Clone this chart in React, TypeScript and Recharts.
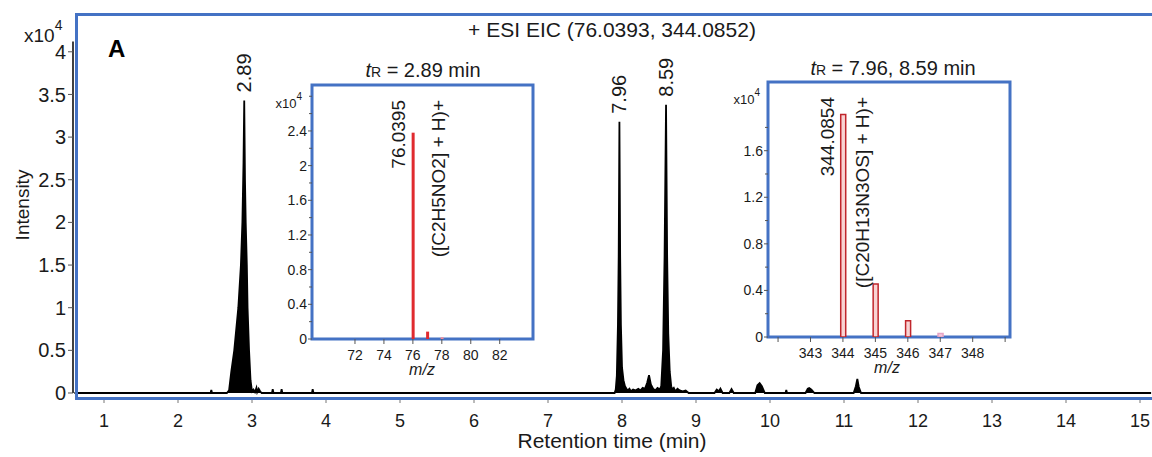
import React from 'react';
import {
  ComposedChart,
  Area,
  XAxis,
  YAxis,
  ReferenceLine,
  ReferenceDot,
  ReferenceArea,
  BarChart,
  Bar,
  Cell,
} from 'recharts';

const FONT = '"Liberation Sans", Arial, Helvetica, sans-serif';
const BLUE = '#4472C4';
const INK = '#1a1a1a';

// ---- EIC chromatogram: retention time (min) and intensity (counts) ----
const eicTime = [
  0.6, 2.4, 2.44, 2.45, 2.46, 2.66, 2.69, 2.72, 2.76, 2.815, 2.85, 2.87, 2.885, 2.895, 2.905,
  2.915, 2.93, 2.94, 2.96, 2.98, 3.0, 3.02, 3.04, 3.06, 3.07, 3.09, 3.11, 3.13, 3.27, 3.28,
  3.29, 3.39, 3.4, 3.41, 3.81, 3.82, 3.83, 7.9, 7.915, 7.93, 7.945, 7.955, 7.965, 7.975,
  7.985, 8.0, 8.02, 8.04, 8.06, 8.08, 8.1, 8.12, 8.15, 8.18, 8.22, 8.25, 8.28, 8.31, 8.34,
  8.365, 8.39, 8.42, 8.45, 8.48, 8.51, 8.53, 8.555, 8.575, 8.595, 8.61, 8.625, 8.645, 8.665,
  8.68, 8.7, 8.72, 8.75, 8.78, 8.82, 8.86, 8.9, 9.25, 9.28, 9.31, 9.33, 9.36, 9.45, 9.48,
  9.51, 9.8, 9.83, 9.86, 9.89, 9.93, 10.21, 10.22, 10.23, 10.48, 10.51, 10.53, 10.56, 10.6,
  11.13, 11.16, 11.18, 11.2, 11.23, 15.15,
];
const eicIntensity = [
  0, 0, 0, 350, 0, 0, 300, 2500, 5000, 10000, 15000, 20000, 27000, 34300, 25000,
  20000, 15000, 10000, 5000, 1500, 200, 400, 100, 600, 100, 500, 200, 0, 0, 450,
  0, 0, 450, 0, 0, 450, 0, 0, 400, 2000, 8000, 16000, 31800, 16000,
  8000, 3000, 1500, 800, 500, 300, 500, 200, 400, 300, 500, 300, 600, 500, 1200,
  2100, 1000, 500, 300, 600, 400, 800, 5000, 16000, 33800, 16000, 7000, 2500, 800,
  400, 600, 200, 500, 300, 200, 300, 0, 0, 400, 200, 500, 0, 0, 450,
  0, 0, 900, 1150, 800, 0, 0, 350, 0, 0, 500, 580, 400, 0,
  0, 800, 1650, 700, 0, 0,
];
const eicData = eicTime.map((t, i) => ({ t, v: eicIntensity[i] }));

const peakTimes = [2.895, 7.965, 8.595];
const peakLabels = ['2.89', '7.96', '8.59'];
const peakApex = [34300, 31800, 33800];

const mainXTicks = [1, 2, 3, 4, 5, 6, 7, 8, 9, 10, 11, 12, 13, 14, 15];
const mainYTicks = [0, 5000, 10000, 15000, 20000, 25000, 30000, 35000, 40000];
const mainXDomain = [0.581, 15.162];
const mainYDomain = [-469, 44431];

// ---- Inset 1: mass spectrum at tR = 2.89 min (x10^4) ----
const ms1Mz = [76, 77, 78];
const ms1Abund = [2.38, 0.085, 0.02];
const ms1Colors = ['#e02a2f', '#e02a2f', '#f08a9a'];
const ms1Data = ms1Mz.map((mz, i) => ({ mz, a: ms1Abund[i] }));
const ms1XTicks = [72, 74, 76, 78, 80, 82];
const ms1YTicks = [0, 0.2, 0.4, 0.6, 0.8, 1.0, 1.2, 1.4, 1.6, 1.8, 2.0, 2.2, 2.4, 2.6, 2.8];
const ms1YLabels = [0, 0.4, 0.8, 1.2, 1.6, 2.0, 2.4];
const ms1XDomain = [69.03, 84.3];
const ms1YDomain = [0, 2.93];

// ---- Inset 2: mass spectrum at tR = 7.96, 8.59 min (x10^4) ----
const ms2Mz = [344, 345, 346, 347];
const ms2Abund = [1.91, 0.455, 0.14, 0.03];
const ms2Fill = ['#f8d3d3', '#f8d3d3', '#f8d3d3', '#f3c6dc'];
const ms2Stroke = ['#c0262c', '#c0262c', '#c0262c', '#e6a3c4'];
const ms2Data = ms2Mz.map((mz, i) => ({ mz, a: ms2Abund[i] }));
const ms2XTicks = [342, 343, 344, 345, 346, 347, 348, 349];
const ms2XLabels = [343, 344, 345, 346, 347, 348];
const ms2YTicks = [0, 0.2, 0.4, 0.6, 0.8, 1.0, 1.2, 1.4, 1.6, 1.8];
const ms2YLabels = [0, 0.4, 0.8, 1.2, 1.6];
const ms2XDomain = [341.69, 349.15];
const ms2YDomain = [0, 2.19];

const fmtInset = (v: number) => String(Number(v.toFixed(1)));
const inList = (list: number[], v: number) => list.some((l) => Math.abs(l - v) < 1e-6);

const makeInsetYTick = (labels: number[]) => (props: any) => {
  const { x, y, payload } = props;
  const v = payload.value as number;
  const major = inList(labels, v);
  return (
    <g>
      <line x1={x - (major ? 4 : 3)} x2={x} y1={y} y2={y} stroke="#555" strokeWidth={1} />
      {major && (
        <text x={x - 5} y={y} dy="0.35em" textAnchor="end" fontSize={14} fill={INK} fontFamily={FONT}>
          {fmtInset(v)}
        </text>
      )}
    </g>
  );
};

const peakLabel = (text: string) => (p: any) => {
  const vb = p.viewBox || {};
  const x = vb.x;
  const y = vb.y - 8;
  return (
    <text
      x={x}
      y={y}
      dy="0.35em"
      transform={`rotate(-90, ${x}, ${y})`}
      textAnchor="start"
      fontSize={20}
      fill={INK}
      fontFamily={FONT}
    >
      {text}
    </text>
  );
};

const insetLabels = (mzText: string, formula: string, topY: number, dxMz: number, dxF: number) => (p: any) => {
  const vb = p.viewBox || {};
  const x1 = vb.x + dxMz;
  const x2 = vb.x + dxF;
  return (
    <g>
      <text x={x1} y={topY} dy="0.35em" transform={`rotate(-90, ${x1}, ${topY})`} textAnchor="end" fontSize={19} fill={INK} fontFamily={FONT}>
        {mzText}
      </text>
      <text x={x2} y={topY} dy="0.35em" transform={`rotate(-90, ${x2}, ${topY})`} textAnchor="end" fontSize={19} fill={INK} fontFamily={FONT}>
        {formula}
      </text>
    </g>
  );
};

export default function App() {
  return (
    <div style={{ position: 'absolute', left: 0, top: 0, width: 1152, height: 457, overflow: 'hidden', background: '#fff' }}>
      {/* Main EIC chromatogram */}
      <div style={{ position: 'absolute', left: 0, top: 0 }}>
        <ComposedChart width={1152} height={457} data={eicData} margin={{ top: 14, right: 0, bottom: 0, left: 0 }}>
          <XAxis
            dataKey="t"
            type="number"
            domain={mainXDomain}
            allowDataOverflow
            ticks={mainXTicks}
            interval={0}
            axisLine={false}
            tickLine={{ stroke: '#777' }}
            tickSize={6}
            tickMargin={11}
            height={60}
            tick={{ fontSize: 18, fill: INK, fontFamily: FONT }}
          />
          <YAxis
            type="number"
            domain={mainYDomain}
            allowDataOverflow
            ticks={mainYTicks}
            interval={0}
            axisLine={false}
            tickLine={{ stroke: '#555' }}
            tickSize={5}
            tickMargin={2}
            width={73}
            tickFormatter={(v: number) => String(v / 10000)}
            tick={{ fontSize: 20, fill: INK, fontFamily: FONT }}
          />
          <Area
            dataKey="v"
            type="linear"
            stroke="#000"
            strokeWidth={1.8}
            fill="#000"
            fillOpacity={1}
            baseValue={0}
            isAnimationActive={false}
            dot={false}
            activeDot={false}
          />
          <ReferenceLine
            segment={[
              { x: mainXDomain[0], y: 0 },
              { x: mainXDomain[0], y: 41200 },
            ]}
            stroke="#000"
            strokeWidth={1.5}
          />
          {peakTimes.map((t, i) => (
            <ReferenceDot key={t} x={t} y={peakApex[i]} r={0} fill="none" stroke="none" label={peakLabel(peakLabels[i])} />
          ))}
        </ComposedChart>
      </div>

      {/* Main blue frame */}
      <div
        style={{
          position: 'absolute',
          left: 75,
          top: 13,
          width: 1100,
          height: 387,
          border: `3px solid ${BLUE}`,
          boxSizing: 'border-box',
        }}
      />

      {/* Inset 1 */}
      <div style={{ position: 'absolute', left: 262, top: 50 }}>
        <BarChart width={290} height={335} data={ms1Data} margin={{ top: 35, right: 19, bottom: 0, left: 10 }}>
          <XAxis
            dataKey="mz"
            type="number"
            domain={ms1XDomain}
            allowDataOverflow
            ticks={ms1XTicks}
            interval={0}
            axisLine={false}
            tickLine={{ stroke: '#555' }}
            tickSize={5}
            tickMargin={6}
            height={46}
            tick={{ fontSize: 14, fill: INK, fontFamily: FONT }}
          />
          <YAxis
            type="number"
            domain={ms1YDomain}
            allowDataOverflow
            ticks={ms1YTicks}
            interval={0}
            axisLine={false}
            tickLine={false}
            tickSize={0}
            tickMargin={0}
            width={40}
            tick={makeInsetYTick(ms1YLabels)}
          />
          <Bar dataKey="a" barSize={3} isAnimationActive={false}>
            {ms1Data.map((d, i) => (
              <Cell key={d.mz} fill={ms1Colors[i]} />
            ))}
          </Bar>
          <ReferenceArea
            x1={ms1XDomain[0]}
            x2={ms1XDomain[1]}
            y1={ms1YDomain[0]}
            y2={ms1YDomain[1]}
            fill="none"
            fillOpacity={0}
            stroke={BLUE}
            strokeWidth={3}
            ifOverflow="visible"
          />
          <ReferenceDot
            x={ms1Mz[0]}
            y={ms1Abund[0]}
            r={0}
            fill="none"
            stroke="none"
            label={insetLabels('76.0395', '([C2H5NO2] + H)+', 100 - 50, -15, 25)}
          />
        </BarChart>
      </div>

      {/* Inset 2 */}
      <div style={{ position: 'absolute', left: 722, top: 47 }}>
        <BarChart width={300} height={335} data={ms2Data} margin={{ top: 35, right: 12, bottom: 0, left: 6 }}>
          <XAxis
            dataKey="mz"
            type="number"
            domain={ms2XDomain}
            allowDataOverflow
            ticks={ms2XTicks}
            interval={0}
            axisLine={false}
            tickLine={{ stroke: '#555' }}
            tickSize={5}
            tickMargin={6}
            height={45}
            tickFormatter={(v: number) => (ms2XLabels.includes(v) ? String(v) : '')}
            tick={{ fontSize: 14, fill: INK, fontFamily: FONT }}
          />
          <YAxis
            type="number"
            domain={ms2YDomain}
            allowDataOverflow
            ticks={ms2YTicks}
            interval={0}
            axisLine={false}
            tickLine={false}
            tickSize={0}
            tickMargin={0}
            width={40}
            tick={makeInsetYTick(ms2YLabels)}
          />
          <Bar dataKey="a" barSize={5} isAnimationActive={false}>
            {ms2Data.map((d, i) => (
              <Cell key={d.mz} fill={ms2Fill[i]} stroke={ms2Stroke[i]} strokeWidth={1.5} />
            ))}
          </Bar>
          <ReferenceArea
            x1={ms2XDomain[0]}
            x2={ms2XDomain[1]}
            y1={ms2YDomain[0]}
            y2={ms2YDomain[1]}
            fill="none"
            fillOpacity={0}
            stroke={BLUE}
            strokeWidth={3}
            ifOverflow="visible"
          />
          <ReferenceDot
            x={ms2Mz[0]}
            y={ms2Abund[0]}
            r={0}
            fill="none"
            stroke="none"
            label={insetLabels('344.0854', '([C20H13N3OS] + H)+', 97 - 47, -16, 19)}
          />
        </BarChart>
      </div>

      {/* Static annotations */}
      <svg width={1152} height={457} style={{ position: 'absolute', left: 0, top: 0, pointerEvents: 'none' }}>
        <text x={612} y={37} textAnchor="middle" fontSize={21} fill={INK} fontFamily={FONT}>
          + ESI EIC (76.0393, 344.0852)
        </text>
        <text x={108} y={57} fontSize={24} fontWeight="bold" fill="#000" fontFamily={FONT}>
          A
        </text>
        <text x={24} y={42} fontSize={19} fill={INK} fontFamily={FONT}>
          x10<tspan fontSize={14} dy={-12}>4</tspan>
        </text>
        <text
          x={22}
          y={205}
          dy="0.35em"
          transform="rotate(-90, 22, 205)"
          textAnchor="middle"
          fontSize={19}
          fill={INK}
          fontFamily={FONT}
        >
          Intensity
        </text>
        <text x={612} y={448} textAnchor="middle" fontSize={21} fill={INK} fontFamily={FONT}>
          Retention time (min)
        </text>

        {/* inset 1 annotations */}
        <text x={423} y={77} textAnchor="middle" fontSize={20} fill={INK} fontFamily={FONT}>
          <tspan fontStyle="italic">t</tspan>
          <tspan fontSize={14}>R</tspan>
          <tspan> = 2.89 min</tspan>
        </text>
        <text x={302} y={108} textAnchor="end" fontSize={13} fill={INK} fontFamily={FONT}>
          x10<tspan fontSize={10} dy={-8}>4</tspan>
        </text>
        <text x={422} y={375} textAnchor="middle" fontSize={16} fontStyle="italic" fill={INK} fontFamily={FONT}>
          m/z
        </text>

        {/* inset 2 annotations */}
        <text x={893} y={75} textAnchor="middle" fontSize={20} fill={INK} fontFamily={FONT}>
          <tspan fontStyle="italic">t</tspan>
          <tspan fontSize={14}>R</tspan>
          <tspan> = 7.96, 8.59 min</tspan>
        </text>
        <text x={760} y={104} textAnchor="end" fontSize={13} fill={INK} fontFamily={FONT}>
          x10<tspan fontSize={10} dy={-8}>4</tspan>
        </text>
        <text x={887} y={373} textAnchor="middle" fontSize={16} fontStyle="italic" fill={INK} fontFamily={FONT}>
          m/z
        </text>
      </svg>
    </div>
  );
}
